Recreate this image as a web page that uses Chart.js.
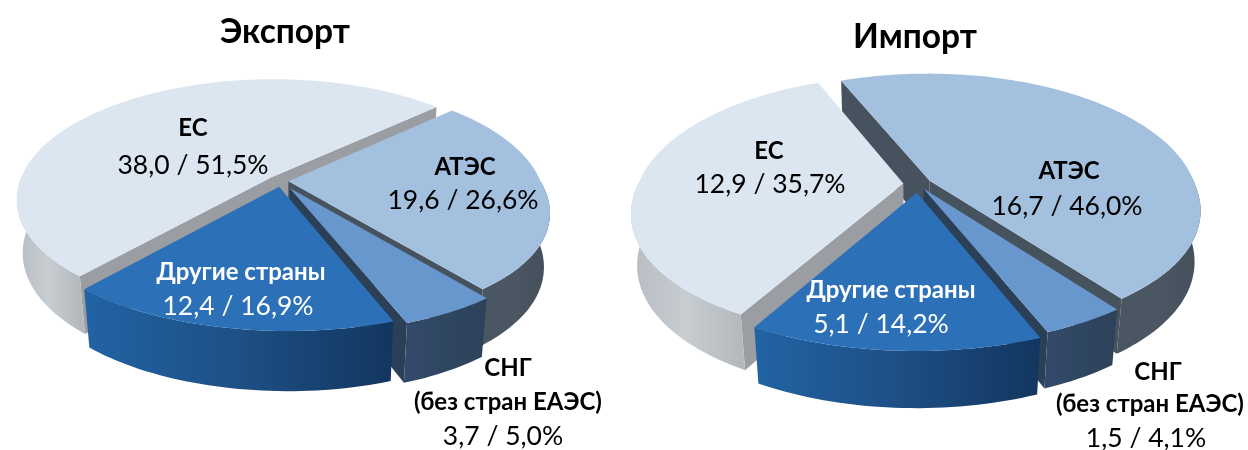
<!DOCTYPE html>
<html><head><meta charset="utf-8">
<style>
html,body{margin:0;padding:0;background:#fff;width:1248px;height:450px;overflow:hidden}
#a,#b{position:absolute;top:0;height:450px}
#a{left:0;width:624px}#b{left:582px;width:666px}
</style>
<script src="https://cdn.jsdelivr.net/npm/chart.js@4/dist/chart.umd.min.js"></script>
</head><body>
<div id="a"><canvas id="ca"></canvas></div>
<div id="b"><canvas id="cb"></canvas></div>
<script>
const categories = ['ЕС', 'АТЭС', 'СНГ', 'Другие страны'];
const exportValues = [38.0, 19.6, 3.7, 12.4];
const exportShares = ['51,5', '26,6', '5,0', '16,9'];
const importValues = [12.9, 16.7, 1.5, 5.1];
const importShares = ['35,7', '46,0', '4,1', '14,2'];
const topColors = ['#dce6f1', '#a3c0de', '#6797cd', '#2c70b8'];
const FONT = 'Lato, "Open Sans", sans-serif';

const sideStyles = [
  {radial:'#9a9ea2', stops:['#b6bcc2','#c8cdd1','#b4b9be']},
  {radial:'#46535f', stops:['#4a5661','#4a5661','#434f5b']},
  {radial:'#2b4057', stops:['#33496a','#2f4660','#2c425a']},
  {radial:'#1d3d62', stops:['#2163a4','#1e4f85','#12365f']}
];

function project(v, x, y, z){
  const s = Math.sin(v.tilt), c = Math.cos(v.tilt);
  const up = -y*s + z*c, depth = y*c + z*s;
  const f = v.dist/(v.dist-depth), yp = Math.max(y,0);
  return [v.cx + v.scale*(x*f*(1+v.widen*yp) + v.lean*yp), v.cy - v.scale*up*f];
}
const pie3d = {
  id:'pie3d',
  beforeDatasetsDraw(chart, args, opts){
    const ctx = chart.ctx, arcs = chart.getDatasetMeta(0).data, v = opts.view;
    const items = arcs.map((a,i)=>{
      const mid=(a.startAngle+a.endAngle)/2, off=(a.options.offset||0)/a.outerRadius;
      const ox=Math.cos(mid)*off, oy=Math.sin(mid)*off;
      const pts=[], front=[], n=Math.max(8,Math.ceil((a.endAngle-a.startAngle)*40));
      for(let k=0;k<=n;k++){
        const t=a.startAngle+(a.endAngle-a.startAngle)*k/n, p=[ox+Math.cos(t),oy+Math.sin(t)];
        pts.push(p); if(Math.sin(t)>-0.02) front.push(p);
      }
      return {i,a,ox,oy,pts,front,near:oy+Math.sin(mid)*0.5};
    }).sort((p,q)=>p.near-q.near);
    const poly=(list)=>{ctx.beginPath();list.forEach((p,k)=>k?ctx.lineTo(p[0],p[1]):ctx.moveTo(p[0],p[1]));ctx.closePath();};
    ctx.save();
    items.forEach(it=>{
      const st=sideStyles[it.i], h=-v.h;
      const top=it.pts.map(p=>project(v,p[0],p[1],0)), bot=it.pts.map(p=>project(v,p[0],p[1],h));
      const at=project(v,it.ox,it.oy,0), ab=project(v,it.ox,it.oy,h);
      ctx.fillStyle=st.radial;
      if(-Math.cos(it.a.startAngle)>0){poly([at,top[0],bot[0],ab]);ctx.fill();}
      if(Math.cos(it.a.endAngle)>0){const e=top.length-1;poly([at,top[e],bot[e],ab]);ctx.fill();}
      if(it.front.length>1){
        const ft=it.front.map(p=>project(v,p[0],p[1],0)), fb=it.front.map(p=>project(v,p[0],p[1],h));
        const xs=ft.map(p=>p[0]), g=ctx.createLinearGradient(Math.min(...xs),0,Math.max(...xs),0);
        st.stops.forEach((c,k)=>g.addColorStop(k/(st.stops.length-1),c));
        ctx.fillStyle=g; poly(ft.concat(fb.reverse())); ctx.fill();
      }
    });
    items.forEach(it=>{
      const top=it.pts.map(p=>project(v,p[0],p[1],0));
      ctx.fillStyle=arcs[it.i].options.backgroundColor;
      poly([project(v,it.ox,it.oy,0)].concat(top)); ctx.fill();
    });
    ctx.restore();
    opts.labels.forEach(l=>{
      ctx.fillStyle=l[3]; ctx.font=(l[4]?'bold ':'')+l[5]+'px '+FONT;
      ctx.textAlign='center'; ctx.textBaseline='middle'; ctx.fillText(l[0],l[1],l[2]);
    });
    return false;
  }
};
Chart.register(pie3d);
function make(id,title,values,shares,rot,offsets,view,pos,padRight){
  const val=i=>values[i].toFixed(1).replace('.',',')+' / '+shares[i]+'%';
  const labels=[
    [categories[0],pos[0][0],pos[0][1],'#000',1,24],
    [val(0),pos[1][0],pos[1][1],'#000',0,26.5],
    [categories[1],pos[2][0],pos[2][1],'#000',1,24],
    [val(1),pos[3][0],pos[3][1],'#000',0,26.5],
    [categories[3],pos[4][0],pos[4][1],'#fff',1,24],
    [val(3),pos[5][0],pos[5][1],'#fff',0,26.5],
    [categories[2],pos[6][0],pos[6][1],'#000',1,24],
    ['(без стран ЕАЭС)',pos[7][0],pos[7][1],'#000',1,24],
    [val(2),pos[8][0],pos[8][1],'#000',0,26.5]
  ];
  return new Chart(document.getElementById(id),{
    type:'pie',
    data:{labels:categories,datasets:[{data:values,backgroundColor:topColors,borderWidth:0,offset:offsets}]},
    options:{responsive:true,maintainAspectRatio:false,animation:false,events:[],rotation:rot,
      layout:{padding:{bottom:140,right:padRight}},
      plugins:{legend:{display:false},tooltip:{enabled:false},
        title:{display:true,text:title,color:'#000',font:{family:FONT,size:33.5,weight:'bold'},padding:{top:view.titleTop,bottom:10}},
        pie3d:{view,labels}}}
  });
}
make('ca','Экспорт',exportValues,exportShares,221.4,[6,3.5,8,6],
  {cx:281,cy:181,scale:252,tilt:0.48,dist:5,h:0.24,widen:0.05,lean:0.04,titleTop:12},
  [[193,128],[193,165],[465,167],[463,200],[241,272],[238,306],[508,368],[508,402],[503,436]],54);
make('cb','Импорт',importValues,importShares,209.2,[6.5,6,5,8],
  {cx:336,cy:184,scale:265,tilt:0.5,dist:5,h:0.22,widen:0.05,lean:0,titleTop:17},
  [[187,151],[188,184],[487,171],[485,206],[309,290],[299,324],[576,372],[568,404],[564,438]],0);
</script></body></html>
